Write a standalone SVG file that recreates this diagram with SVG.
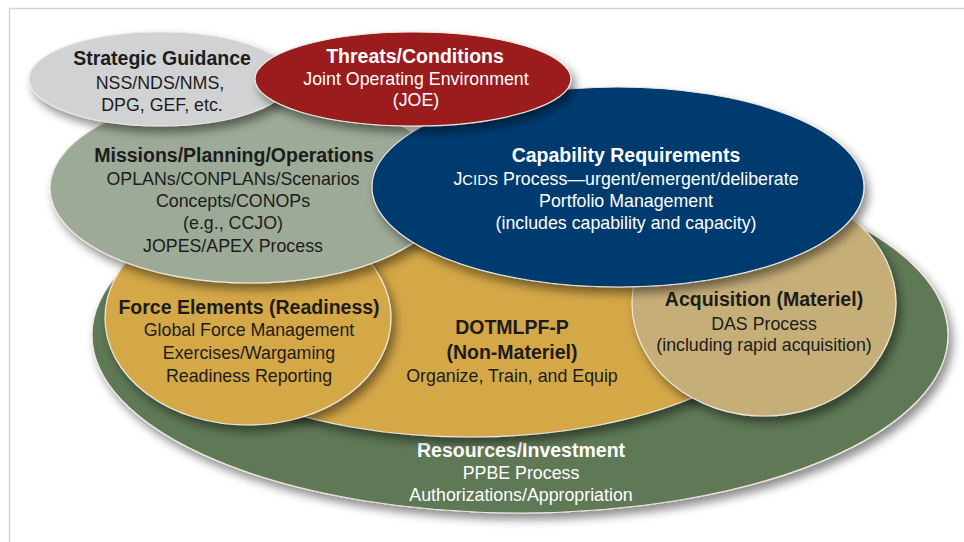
<svg xmlns="http://www.w3.org/2000/svg" width="964" height="542" viewBox="0 0 964 542">
<defs>
<filter id="sh" x="-20%" y="-20%" width="145%" height="150%">
<feDropShadow dx="4" dy="6" stdDeviation="5" flood-color="#000" flood-opacity="0.45"/>
</filter>
</defs>
<style>
.el{filter:url(#sh);stroke:#ece8df;stroke-width:1.2}
text{font-family:"Liberation Sans",Arial,sans-serif;text-anchor:middle}
.t{font-weight:bold;font-size:19.5px}
.b{font-size:17.8px}
.dk{fill:#1c1c1c}
.wh{fill:#ffffff}
</style>
<rect x="0" y="0" width="964" height="542" fill="#ffffff"/>
<path d="M9.5 542 V8.5 H964" fill="none" stroke="#d4d4d4" stroke-width="1.5"/>
<g id="connectors"/>
<g id="resources">
<ellipse class="el" cx="520" cy="335" rx="428" ry="178" fill="#5f7856"/>
<text class="t wh" x="521" y="457">Resources/Investment</text>
<text class="b wh" x="521" y="479">PPBE Process</text>
<text class="b wh" x="521" y="501">Authorizations/Appropriation</text>
</g>
<g id="dotmlpf">
<ellipse class="el" cx="470" cy="287" rx="330" ry="150" fill="#d4a747"/>
<text class="t dk" x="512" y="334">DOTMLPF-P</text>
<text class="t dk" x="512" y="359">(Non-Materiel)</text>
<text class="b dk" x="512" y="382">Organize, Train, and Equip</text>
</g>
<g id="force">
<ellipse class="el" cx="248" cy="318" rx="143" ry="107" fill="#d4a747"/>
<text class="t dk" x="249" y="314">Force Elements (Readiness)</text>
<text class="b dk" x="249" y="336">Global Force Management</text>
<text class="b dk" x="249" y="359">Exercises/Wargaming</text>
<text class="b dk" x="249" y="382">Readiness Reporting</text>
</g>
<g id="acquisition">
<ellipse class="el" cx="764" cy="303" rx="132" ry="113" fill="#c6ae78"/>
<text class="t dk" x="764" y="306">Acquisition (Materiel)</text>
<text class="b dk" x="764" y="330">DAS Process</text>
<text class="b dk" x="764" y="351">(including rapid acquisition)</text>
</g>
<g id="missions">
<ellipse class="el" cx="250" cy="188" rx="200" ry="95" fill="#9daa97"/>
<text class="t dk" x="234" y="162">Missions/Planning/Operations</text>
<text class="b dk" x="233" y="185">OPLANs/CONPLANs/Scenarios</text>
<text class="b dk" x="233" y="207">Concepts/CONOPs</text>
<text class="b dk" x="233" y="229">(e.g., CCJO)</text>
<text class="b dk" x="233" y="252">JOPES/APEX Process</text>
</g>
<g id="capability">
<ellipse class="el" cx="618" cy="187" rx="246" ry="100" fill="#023b6f"/>
<text class="t wh" x="626" y="162">Capability Requirements</text>
<text class="b wh" x="626" y="185">J<tspan font-size="15px">CIDS</tspan> Process—urgent/emergent/deliberate</text>
<text class="b wh" x="626" y="207">Portfolio Management</text>
<text class="b wh" x="626" y="229">(includes capability and capacity)</text>
</g>
<g id="strategic">
<ellipse class="el" cx="160" cy="79" rx="131" ry="47" fill="#d1d2d4"/>
<text class="t dk" x="162" y="65">Strategic Guidance</text>
<text class="b dk" x="160" y="89">NSS/NDS/NMS,</text>
<text class="b dk" x="162" y="111">DPG, GEF, etc.</text>
</g>
<g id="threats">
<ellipse class="el" cx="413" cy="79" rx="158" ry="47" fill="#9a1b1e"/>
<text class="t wh" x="415" y="63">Threats/Conditions</text>
<text class="b wh" x="416" y="85">Joint Operating Environment</text>
<text class="b wh" x="416" y="106">(JOE)</text>
</g>
</svg>
